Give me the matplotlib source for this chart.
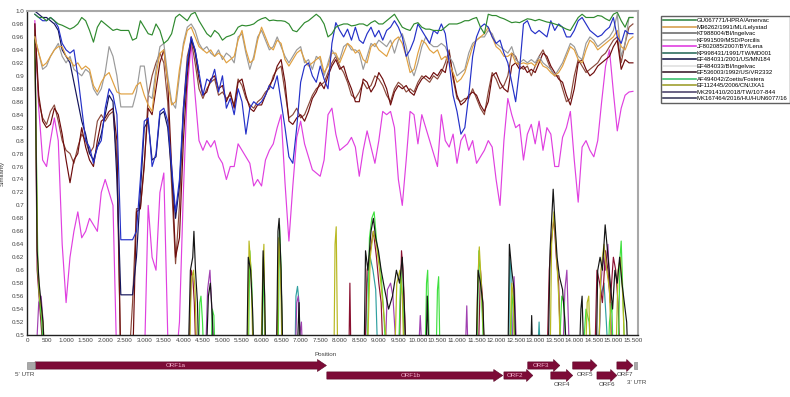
import numpy as np
import matplotlib.pyplot as plt
from matplotlib.lines import Line2D
from matplotlib.patches import Polygon

plt.rcParams['font.family'] = ['Liberation Sans', 'DejaVu Sans']

# window midpoints (nt) for the PRRSV-1 similarity curves
pos = list(range(200, 15600, 100))

amervac = [0.995, 0.99, 0.99, 0.985, 0.99, 0.985, 0.98, 0.978, 0.975, 0.972,
           0.975, 0.98, 0.99, 0.985, 0.97, 0.952, 0.975, 0.985, 0.98, 0.975,
           0.97, 0.972, 0.97, 0.97, 0.97, 0.955, 0.958, 0.985, 0.975, 0.965,
           0.963, 0.98, 0.97, 0.95, 0.955, 0.965, 0.99, 0.995, 0.99, 0.985,
           0.995, 0.998, 0.985, 0.975, 0.965, 0.96, 0.97, 0.965, 0.955, 0.96,
           0.962, 0.965, 0.975, 0.978, 0.977, 0.978, 0.98, 0.985, 0.988, 0.99,
           0.985, 0.986, 0.985, 0.985, 0.984, 0.98, 0.97, 0.968, 0.975, 0.982,
           0.985, 0.99, 0.995, 0.99, 0.98, 0.96, 0.965, 0.975, 0.978, 0.98,
           0.98, 0.977, 0.978, 0.98, 0.98, 0.977, 0.982, 0.985, 0.98, 0.98,
           0.985, 0.99, 0.995, 0.985, 0.975, 0.972, 0.97, 0.98, 0.982, 0.975,
           0.972, 0.972, 0.97, 0.97, 0.97, 0.975, 0.98, 0.98, 0.98, 0.982,
           0.985, 0.985, 0.988, 0.99, 0.975, 0.965, 0.995, 0.993, 0.993, 0.99,
           0.988, 0.985, 0.982, 0.983, 0.982, 0.985, 0.988, 0.987, 0.985, 0.987,
           0.985, 0.983, 0.982, 0.98, 0.978, 0.975, 0.972, 0.97, 0.98, 0.99,
           0.995, 0.99, 0.99, 0.99, 0.993, 0.992, 0.988, 0.985, 0.995, 0.998,
           0.985, 0.975, 0.99, 0.99]

hun6077 = [0.995, 0.99, 0.985, 0.985, 0.99, 0.985, 0.975, 0.95, 0.94, 0.935,
           0.94, 0.9, 0.85, 0.80, 0.79, 0.765, 0.79, 0.80, 0.85, 0.88,
           0.87, 0.84, 0.647, 0.647, 0.647, 0.647, 0.66, 0.74, 0.83, 0.835,
           0.76, 0.78, 0.845, 0.85, 0.83, 0.76, 0.69, 0.74, 0.85, 0.92,
           0.96, 0.94, 0.905, 0.87, 0.895, 0.89, 0.91, 0.875, 0.9, 0.85,
           0.865, 0.84, 0.88, 0.86, 0.81, 0.85, 0.86, 0.855, 0.86, 0.87,
           0.885, 0.88, 0.9, 0.86, 0.82, 0.775, 0.765, 0.82, 0.89, 0.915,
           0.92, 0.9, 0.89, 0.915, 0.895, 0.88, 0.95, 0.982, 0.97, 0.96,
           0.972, 0.955, 0.975, 0.955, 0.95, 0.965, 0.975, 0.96, 0.97, 0.955,
           0.97, 0.975, 0.985, 0.975, 0.96, 0.93, 0.94, 0.955, 0.98, 0.97,
           0.96, 0.95, 0.97, 0.965, 0.98, 0.965, 0.92, 0.87, 0.845, 0.81,
           0.82, 0.87, 0.93, 0.96, 0.975, 0.98, 0.975, 0.96, 0.95, 0.955,
           0.935, 0.92, 0.89, 0.86, 0.91, 0.98, 0.985, 0.97, 0.965, 0.97,
           0.965, 0.96, 0.985, 0.97, 0.98, 0.975, 0.96, 0.96, 0.97, 0.985,
           0.99, 0.98, 0.97, 0.965, 0.96, 0.963, 0.97, 0.975, 0.99, 0.96,
           0.95, 0.97, 0.965, 0.965]

porcilis = [0.96, 0.935, 0.91, 0.915, 0.93, 0.94, 0.95, 0.93, 0.92, 0.93,
            0.91, 0.905, 0.90, 0.91, 0.905, 0.88, 0.87, 0.88, 0.905, 0.945,
            0.93, 0.9, 0.852, 0.852, 0.852, 0.852, 0.875, 0.915, 0.915, 0.87,
            0.865, 0.91, 0.945, 0.95, 0.9, 0.86, 0.85, 0.9, 0.95, 0.975,
            0.98, 0.97, 0.95, 0.94, 0.945, 0.935, 0.93, 0.94, 0.925, 0.935,
            0.93, 0.92, 0.96, 0.965, 0.935, 0.91, 0.93, 0.96, 0.97, 0.955,
            0.94, 0.945, 0.96, 0.945, 0.93, 0.92, 0.93, 0.94, 0.945, 0.92,
            0.925, 0.91, 0.93, 0.925, 0.9, 0.92, 0.94, 0.93, 0.925, 0.945,
            0.95, 0.94, 0.94, 0.935, 0.91, 0.93, 0.95, 0.945, 0.955, 0.95,
            0.945, 0.955, 0.935, 0.955, 0.965, 0.945, 0.915, 0.9, 0.92, 0.945,
            0.96, 0.95, 0.945, 0.945, 0.95, 0.945, 0.93, 0.92, 0.9, 0.905,
            0.91, 0.935, 0.95, 0.955, 0.96, 0.96, 0.97, 0.965, 0.95, 0.945,
            0.94, 0.935, 0.945, 0.925, 0.92, 0.925, 0.92, 0.925, 0.92, 0.93,
            0.92, 0.915, 0.91, 0.9, 0.91, 0.92, 0.935, 0.95, 0.945, 0.93,
            0.925, 0.95, 0.96, 0.955, 0.945, 0.95, 0.955, 0.96, 0.97, 0.995,
            0.93, 0.95, 0.99, 0.99]

lelystad = [0.96, 0.935, 0.915, 0.92, 0.93, 0.94, 0.945, 0.945, 0.93, 0.925,
            0.915, 0.92, 0.91, 0.915, 0.91, 0.885, 0.875, 0.89, 0.9, 0.905,
            0.89, 0.875, 0.872, 0.872, 0.872, 0.872, 0.885, 0.89, 0.87, 0.855,
            0.845, 0.9, 0.935, 0.94, 0.89, 0.855, 0.86, 0.91, 0.945, 0.97,
            0.975, 0.96, 0.945, 0.94, 0.935, 0.94, 0.93, 0.935, 0.93, 0.92,
            0.925, 0.93, 0.955, 0.97, 0.94, 0.92, 0.925, 0.955, 0.975, 0.96,
            0.945, 0.94, 0.955, 0.95, 0.925, 0.915, 0.925, 0.935, 0.94, 0.925,
            0.915, 0.92, 0.925, 0.93, 0.905, 0.915, 0.935, 0.935, 0.92, 0.935,
            0.95, 0.945, 0.935, 0.94, 0.925, 0.92, 0.945, 0.95, 0.94, 0.935,
            0.93, 0.945, 0.955, 0.96, 0.95, 0.93, 0.905, 0.91, 0.935, 0.955,
            0.95, 0.94, 0.935, 0.94, 0.925, 0.93, 0.92, 0.905, 0.89, 0.895,
            0.905, 0.925, 0.945, 0.955, 0.96, 0.965, 0.975, 0.96, 0.945, 0.94,
            0.93, 0.93, 0.935, 0.92, 0.918, 0.92, 0.918, 0.92, 0.915, 0.925,
            0.915, 0.912, 0.905, 0.9, 0.905, 0.915, 0.93, 0.945, 0.94, 0.925,
            0.92, 0.94, 0.955, 0.95, 0.94, 0.945, 0.95, 0.955, 0.96, 0.97,
            0.945, 0.94, 0.955, 0.96]

darkred = [0.98, 0.87, 0.83, 0.82, 0.825, 0.85, 0.84, 0.81, 0.77, 0.735,
           0.77, 0.78, 0.82, 0.79, 0.77, 0.76, 0.80, 0.83, 0.835, 0.845,
           0.85, 0.80, 0.45, 0.45, 0.45, 0.45, 0.69, 0.695, 0.765, 0.85,
           0.84, 0.88, 0.92, 0.94, 0.89, 0.76, 0.62, 0.65, 0.80, 0.9,
           0.96, 0.935, 0.895, 0.87, 0.875, 0.895, 0.9, 0.88, 0.885, 0.86,
           0.875, 0.85, 0.89, 0.895, 0.87, 0.85, 0.845, 0.855, 0.855, 0.87,
           0.885, 0.895, 0.915, 0.925, 0.89, 0.83, 0.825, 0.835, 0.84, 0.83,
           0.845, 0.865, 0.875, 0.89, 0.88, 0.9, 0.915, 0.925, 0.91, 0.915,
           0.895, 0.88, 0.86, 0.86, 0.895, 0.89, 0.875, 0.885, 0.905, 0.895,
           0.88, 0.855, 0.875, 0.885, 0.88, 0.885, 0.875, 0.87, 0.885, 0.895,
           0.9, 0.895, 0.905, 0.9, 0.91, 0.905, 0.935, 0.9, 0.87, 0.855,
           0.86, 0.87, 0.875, 0.87, 0.855, 0.845, 0.86, 0.9, 0.905, 0.89,
           0.88, 0.875, 0.915, 0.92, 0.91, 0.915, 0.905, 0.91, 0.905, 0.92,
           0.935, 0.93, 0.915, 0.905, 0.895, 0.89, 0.87, 0.855, 0.88, 0.92,
           0.925, 0.91, 0.9, 0.905, 0.915, 0.92, 0.925, 0.93, 0.945, 0.955,
           0.91, 0.925, 0.92, 0.92]

brown = [0.97, 0.86, 0.835, 0.825, 0.845, 0.855, 0.83, 0.80, 0.785, 0.78,
         0.765, 0.79, 0.81, 0.80, 0.78, 0.79, 0.83, 0.84, 0.83, 0.84,
         0.845, 0.77, 0.45, 0.45, 0.45, 0.55, 0.695, 0.695, 0.76, 0.87,
         0.9, 0.92, 0.935, 0.92, 0.86, 0.73, 0.61, 0.70, 0.85, 0.93,
         0.955, 0.92, 0.88, 0.865, 0.88, 0.89, 0.895, 0.87, 0.875, 0.865,
         0.87, 0.855, 0.895, 0.885, 0.865, 0.855, 0.85, 0.86, 0.865, 0.875,
         0.88, 0.9, 0.91, 0.915, 0.875, 0.835, 0.84, 0.85, 0.835, 0.84,
         0.855, 0.87, 0.88, 0.885, 0.89, 0.905, 0.92, 0.93, 0.915, 0.905,
         0.89, 0.87, 0.865, 0.875, 0.89, 0.88, 0.885, 0.9, 0.895, 0.885,
         0.87, 0.86, 0.88, 0.89, 0.885, 0.875, 0.88, 0.875, 0.89, 0.9,
         0.895, 0.89, 0.9, 0.895, 0.905, 0.92, 0.94, 0.895, 0.865, 0.86,
         0.865, 0.865, 0.88, 0.865, 0.85, 0.84, 0.875, 0.905, 0.895, 0.88,
         0.885, 0.9, 0.935, 0.93, 0.915, 0.91, 0.915, 0.9, 0.915, 0.93,
         0.94, 0.925, 0.91, 0.9, 0.9, 0.88, 0.86, 0.865, 0.9, 0.925,
         0.915, 0.905, 0.91, 0.915, 0.92, 0.93, 0.935, 0.945, 0.955, 0.96,
         0.92, 0.95, 0.975, 0.98]

lena = [0.985, 0.85, 0.77, 0.76, 0.80, 0.835, 0.80, 0.64, 0.55, 0.62,
        0.66, 0.69, 0.65, 0.66, 0.68, 0.67, 0.66, 0.72, 0.74, 0.72,
        0.70, 0.45, 0.45, 0.45, 0.45, 0.45, 0.45, 0.45, 0.45, 0.70,
        0.62, 0.6, 0.72, 0.75, 0.5, 0.45, 0.45, 0.52, 0.72, 0.88,
        0.95, 0.87, 0.8, 0.785, 0.8, 0.79, 0.80, 0.775, 0.765, 0.74,
        0.76, 0.76, 0.795, 0.785, 0.775, 0.765, 0.73, 0.74, 0.73, 0.77,
        0.785, 0.795, 0.82, 0.84, 0.735, 0.645, 0.73, 0.805, 0.83, 0.795,
        0.775, 0.755, 0.75, 0.745, 0.77, 0.84, 0.85, 0.81, 0.785, 0.79,
        0.795, 0.805, 0.79, 0.745, 0.785, 0.815, 0.79, 0.765, 0.8, 0.845,
        0.84, 0.845, 0.82, 0.74, 0.70, 0.77, 0.845, 0.84, 0.795, 0.84,
        0.82, 0.8, 0.78, 0.76, 0.84, 0.8, 0.79, 0.81, 0.765, 0.8,
        0.81, 0.785, 0.8, 0.765, 0.775, 0.785, 0.8, 0.79, 0.74, 0.70,
        0.80, 0.865, 0.84, 0.82, 0.825, 0.77, 0.81, 0.825, 0.795, 0.83,
        0.785, 0.82, 0.81, 0.76, 0.76, 0.805, 0.82, 0.845, 0.77, 0.705,
        0.79, 0.8, 0.785, 0.775, 0.8, 0.86, 0.915, 0.94, 0.875, 0.815,
        0.85, 0.87, 0.875, 0.876]

navy_pos = list(range(200, 4500, 100))
navy = [1.0, 0.995, 0.99, 0.99, 0.985, 0.98, 0.97, 0.94, 0.93, 0.92,
        0.89, 0.86, 0.83, 0.81, 0.78, 0.77, 0.79, 0.81, 0.84, 0.87,
        0.86, 0.74, 0.562, 0.562, 0.562, 0.562, 0.62, 0.72, 0.82, 0.83,
        0.77, 0.775, 0.84, 0.845, 0.82, 0.75, 0.68, 0.73, 0.84, 0.915,
        0.955, 0.94, 0.905]

# PRRSV-2 curves: mostly under 0.5, only the peaks show
black_pos = [200, 260, 310, 360, 410, 460,
             4120, 4180, 4240, 4270, 4310, 4360, 4400,
             4580, 4640, 4690, 4740, 4790,
             5620, 5660, 5720, 5770, 5810,
             6000, 6040, 6080, 6110,
             6380, 6420, 6450, 6500, 6550,
             6900, 6960, 7000,
             8620, 8660, 8720, 8800, 8860, 8920, 8990, 9060, 9150, 9250, 9350, 9450, 9530, 9600, 9660, 9700,
             10200, 10240, 10290,
             11480, 11540, 11600, 11660, 11720,
             12300, 12340, 12400, 12460, 12520,
             12880, 12910, 12940,
             13330, 13380, 13440, 13460, 13500, 13560, 13620, 13700, 13760, 13820,
             14120, 14170, 14200, 14250,
             14560, 14600, 14660, 14720, 14790, 14850, 14920, 14980, 15040, 15100, 15160, 15220, 15280, 15340, 15380]
black_sim = [0.98, 0.63, 0.58, 0.55, 0.52, 0.45,
             0.45, 0.60, 0.62, 0.66, 0.60, 0.55, 0.45,
             0.45, 0.56, 0.58, 0.53, 0.45,
             0.45, 0.62, 0.60, 0.54, 0.45,
             0.45, 0.63, 0.56, 0.45,
             0.45, 0.66, 0.68, 0.60, 0.45,
             0.45, 0.55, 0.45,
             0.45, 0.63, 0.60, 0.66, 0.68, 0.65, 0.63, 0.60, 0.57, 0.54, 0.56, 0.60, 0.58, 0.62, 0.53, 0.45,
             0.45, 0.56, 0.45,
             0.45, 0.60, 0.58, 0.55, 0.45,
             0.45, 0.64, 0.60, 0.57, 0.45,
             0.45, 0.53, 0.45,
             0.45, 0.63, 0.70, 0.725, 0.68, 0.62, 0.59, 0.57, 0.52, 0.45,
             0.45, 0.54, 0.56, 0.45,
             0.45, 0.60, 0.62, 0.60, 0.67, 0.63, 0.58, 0.54, 0.60, 0.58, 0.62, 0.58, 0.55, 0.52, 0.45]

olive_pos = [200, 270, 320, 370, 420, 460,
             4150, 4200, 4260, 4300, 4350,
             5640, 5680, 5730, 5790,
             5980, 6030, 6060, 6100,
             6400, 6440, 6480, 6530,
             7850, 7880, 7910, 7950,
             8700, 8780, 8860, 8940, 9020, 9100, 9180, 9240,
             9400, 9460, 9540, 9600, 9650,
             11480, 11530, 11570, 11620, 11680, 11730,
             12340, 12400, 12440, 12480,
             13380, 13420, 13480, 13540, 13600, 13660,
             14280, 14330, 14370, 14420,
             14620, 14680, 14760, 14830, 14900, 14960,
             15060, 15120, 15180, 15240, 15300]
olive_sim = [0.97, 0.62, 0.56, 0.54, 0.51, 0.45,
             0.45, 0.58, 0.60, 0.57, 0.45,
             0.45, 0.645, 0.60, 0.45,
             0.45, 0.60, 0.64, 0.45,
             0.45, 0.65, 0.62, 0.45,
             0.45, 0.64, 0.667, 0.45,
             0.45, 0.62, 0.66, 0.64, 0.60, 0.55, 0.50, 0.45,
             0.45, 0.58, 0.60, 0.56, 0.45,
             0.45, 0.58, 0.636, 0.58, 0.50, 0.45,
             0.45, 0.58, 0.56, 0.45,
             0.45, 0.64, 0.69, 0.63, 0.56, 0.45,
             0.45, 0.55, 0.56, 0.45,
             0.45, 0.60, 0.64, 0.60, 0.57, 0.45,
             0.45, 0.60, 0.62, 0.56, 0.45]

green_pos = [200, 280, 330, 380, 430,
             4380, 4420, 4450, 4490, 4530,
             4700, 4740, 4780, 4820,
             5660, 5700, 5750, 5800,
             6010, 6050, 6100,
             6420, 6460, 6500, 6540,
             8700, 8760, 8820, 8880, 8950, 9050, 9120, 9200,
             9500, 9560, 9620, 9660,
             10180, 10220, 10250, 10300,
             10460, 10500, 10530, 10570,
             11500, 11560, 11620, 11700,
             12360, 12400, 12460, 12500,
             13600, 13680, 13740, 13800,
             14200, 14300, 14380, 14440,
             14860, 14900, 14960, 15000,
             15120, 15170, 15200, 15250, 15300]
green_sim = [0.96, 0.60, 0.55, 0.52, 0.45,
             0.45, 0.55, 0.56, 0.52, 0.45,
             0.45, 0.54, 0.53, 0.45,
             0.45, 0.63, 0.58, 0.45,
             0.45, 0.62, 0.45,
             0.45, 0.67, 0.60, 0.45,
             0.45, 0.65, 0.68, 0.69, 0.64, 0.60, 0.54, 0.45,
             0.45, 0.60, 0.55, 0.45,
             0.45, 0.58, 0.60, 0.45,
             0.45, 0.57, 0.59, 0.45,
             0.45, 0.63, 0.57, 0.45,
             0.45, 0.57, 0.52, 0.45,
             0.45, 0.56, 0.55, 0.45,
             0.45, 0.54, 0.52, 0.45,
             0.45, 0.52, 0.55, 0.45,
             0.45, 0.62, 0.645, 0.55, 0.45]

purple_pos = [220, 300, 360, 400, 450,
              4560, 4620, 4680, 4720, 4770,
              6860, 6900, 6940, 6980, 7020, 7060,
              9150, 9220, 9300, 9360, 9420, 9480,
              10000, 10060, 10120,
              11200, 11250, 11290,
              12400, 12460, 12510, 12550,
              13700, 13760, 13810, 13860, 13900,
              14620, 14680, 14740, 14800, 14860, 14920, 14980]
purple_sim = [0.45, 0.55, 0.56, 0.53, 0.45,
              0.45, 0.57, 0.60, 0.55, 0.45,
              0.45, 0.55, 0.56, 0.50, 0.52, 0.45,
              0.45, 0.57, 0.58, 0.56, 0.50, 0.45,
              0.45, 0.53, 0.45,
              0.45, 0.545, 0.45,
              0.45, 0.59, 0.50, 0.45,
              0.45, 0.57, 0.60, 0.50, 0.45,
              0.45, 0.58, 0.62, 0.60, 0.64, 0.56, 0.45]

maroon_pos = [200, 260, 320, 380, 420,
              4140, 4200, 4240, 4280, 4330,
              6380, 6430, 6470, 6510, 6550,
              8230, 8260, 8290,
              8640, 8700, 8780, 8860, 8940, 9000, 9060, 9120,
              9520, 9580, 9620, 9680, 9720,
              11540, 11600, 11660, 11700,
              13300, 13360, 13420, 13480, 13540, 13600, 13660,
              14520, 14580, 14650, 14720, 14800, 14860, 14920, 15000, 15060, 15120, 15180]
maroon_sim = [0.97, 0.60, 0.55, 0.50, 0.45,
              0.45, 0.60, 0.59, 0.55, 0.45,
              0.45, 0.60, 0.64, 0.56, 0.45,
              0.45, 0.58, 0.45,
              0.45, 0.60, 0.63, 0.66, 0.62, 0.58, 0.55, 0.45,
              0.45, 0.63, 0.60, 0.50, 0.45,
              0.45, 0.60, 0.55, 0.45,
              0.45, 0.60, 0.65, 0.68, 0.62, 0.58, 0.45,
              0.45, 0.60, 0.58, 0.55, 0.63, 0.60, 0.55, 0.62, 0.60, 0.55, 0.45]

teal_pos = [6850, 6880, 6920, 6960, 7000,
            8640, 8700, 8780, 8850, 8920, 8980,
            12320, 12350, 12380, 12420,
            13050, 13100, 13140,
            14600, 14680, 14760, 14820, 14880]
teal_sim = [0.45, 0.56, 0.575, 0.55, 0.45,
            0.45, 0.58, 0.62, 0.60, 0.57, 0.45,
            0.45, 0.62, 0.60, 0.45,
            0.45, 0.52, 0.45,
            0.45, 0.56, 0.58, 0.52, 0.45]

legend_names = ['GU067771/HPRA/Amervac', 'M96262/1991/ML/Lelystad', 'KT988004/BI/Ingelvac',
                'KF991509/MSD/Porcilis', 'JF802085/2007/BY/Lena', 'KP998431/1991/TW/MD001',
                'EF484031/2001/US/MN184', 'EF484033/BI/Ingelvac', 'EF536003/1992/US/VR2332',
                'AF494042/Zoetis/Fostera', 'EF112445/2006/CN/JXA1', 'MK291410/2018/TW/107-844',
                'MK167464/2016/HU/HUN6077/16']
legend_colors = ['#3a8a4a', '#d8a050', '#707070', '#b8b8b8', '#e040e0', '#307060', '#202050',
                 '#e0e0e0', '#402030', '#40c070', '#a0a030', '#504870', '#404060']

# genome map (nt)
orf_names = ['ORF1a', 'ORF1b', 'ORF2', 'ORF3', 'ORF4', 'ORF5', 'ORF6', 'ORF7']
orf_start = [205, 7670, 12200, 12810, 13400, 13960, 14580, 15090]
orf_end = [7660, 12170, 12940, 13630, 13960, 14580, 15090, 15500]
orf_row = [0, 1, 1, 0, 1, 0, 1, 0]
orf_label_inside = [True, True, True, True, False, False, False, False]
utr5 = (0, 205)
utr3 = (15520, 15650)

y_ticks = [round(0.5 + 0.02 * i, 2) for i in range(26)]
y_tick_labels = ['0.5', '0.52', '0.54', '0.56', '0.58', '0.6', '0.62', '0.64', '0.66', '0.68',
                 '0.7', '0.72', '0.74', '0.76', '0.78', '0.8', '0.82', '0.84', '0.86', '0.88',
                 '0.9', '0.92', '0.94', '0.96', '0.98', '1.0']
x_ticks = list(range(0, 16000, 500))
x_tick_labels = [f'{v:,}'.replace(',', '.') for v in x_ticks]

fig = plt.figure(figsize=(7.9, 3.97), dpi=100)
ax = fig.add_axes([27 / 790, 62 / 397, 611 / 790, 324 / 397])

lw = 0.85
for xs, ys, c in [(teal_pos, teal_sim, '#30a0a0'), (purple_pos, purple_sim, '#a040b0'),
                  (maroon_pos, maroon_sim, '#8a1030'), (green_pos, green_sim, '#40e040'),
                  (olive_pos, olive_sim, '#b8b820'), (black_pos, black_sim, '#151515')]:
    ax.plot(xs, ys, color=c, lw=lw)

ax.plot(pos, lena, color='#e040e0', lw=lw)
ax.plot(pos, brown, color='#8b4a3c', lw=lw)
ax.plot(pos, darkred, color='#6e0c0c', lw=lw)
ax.plot(navy_pos, navy, color='#14145a', lw=lw)
ax.plot(pos, porcilis, color='#9a9a9a', lw=lw)
ax.plot(pos, lelystad, color='#e0a040', lw=lw)
ax.plot(pos, hun6077, color='#2430c8', lw=lw)
ax.plot(pos, amervac, color='#2f8a2f', lw=lw)

ax.set_xlim(0, 15630)
ax.set_ylim(0.5, 1.0)
ax.set_yticks(y_ticks)
ax.set_yticklabels(y_tick_labels)
ax.set_xticks(x_ticks)
ax.set_xticklabels(x_tick_labels)
ax.tick_params(length=0, labelsize=4.5, labelcolor='#404040', pad=2)
for s in ['left', 'bottom']:
    ax.spines[s].set_color('#202020')
    ax.spines[s].set_linewidth(1.0)
for s in ['top', 'right']:
    ax.spines[s].set_color('#a8a8a8')
    ax.spines[s].set_linewidth(1.5)
ax.set_ylabel('Similarity', fontsize=4.5, color='#404040')
ax.yaxis.set_label_coords(-0.036, 0.5)
ax.set_xlabel('Position', fontsize=4.5, color='#404040')
ax.xaxis.set_label_coords(0.488, -0.052)

handles = [Line2D([], [], color=c, lw=1.2) for c in legend_colors]
fig.legend(handles, legend_names, loc='upper left', bbox_to_anchor=(661 / 790, 1 - 16 / 397),
           fontsize=4.3, frameon=True, fancybox=False, edgecolor='#606060', framealpha=1,
           borderpad=0.35, labelspacing=0.22, handlelength=5.5, handletextpad=0.15,
           borderaxespad=0)

# genome map panel, y in pixel rows below the plot
mx = fig.add_axes([27 / 790, 0, 611 / 790, 42 / 397])
mx.set_xlim(0, 15630)
mx.set_ylim(42, 0)
mx.axis('off')
row_y = [10.5, 20.5]
half, head_half = 3.6, 6.0
orf_color = '#7d0b37'
for name, s, e, r, inside in zip(orf_names, orf_start, orf_end, orf_row, orf_label_inside):
    c = row_y[r]
    hl = 230 if e - s > 2000 else 160
    verts = [(s, c - half), (e - hl, c - half), (e - hl, c - head_half), (e, c),
             (e - hl, c + head_half), (e - hl, c + half), (s, c + half)]
    mx.add_patch(Polygon(verts, closed=True, facecolor=orf_color, edgecolor='#5a0626', lw=0.4))
    if inside:
        mx.text((s + e - hl) / 2, c, name, color='#f4b6d0', fontsize=4.5, ha='center', va='center')
    else:
        mx.text((s + e) / 2, c + 9, name, color='#404040', fontsize=4.5, ha='center', va='center')

for (a, b) in [utr5, utr3]:
    mx.add_patch(Polygon([(a, row_y[0] - half), (b, row_y[0] - half), (b, row_y[0] + half),
                          (a, row_y[0] + half)], closed=True, facecolor='#a8a8a8',
                         edgecolor='#808080', lw=0.4))
mx.text(-50, 19.5, "5' UTR", fontsize=4.5, color='#404040', ha='center', va='center', clip_on=False)
mx.text(15600, 27, "3' UTR", fontsize=4.5, color='#404040', ha='center', va='center', clip_on=False)

fig.savefig('out.png', dpi=100)
